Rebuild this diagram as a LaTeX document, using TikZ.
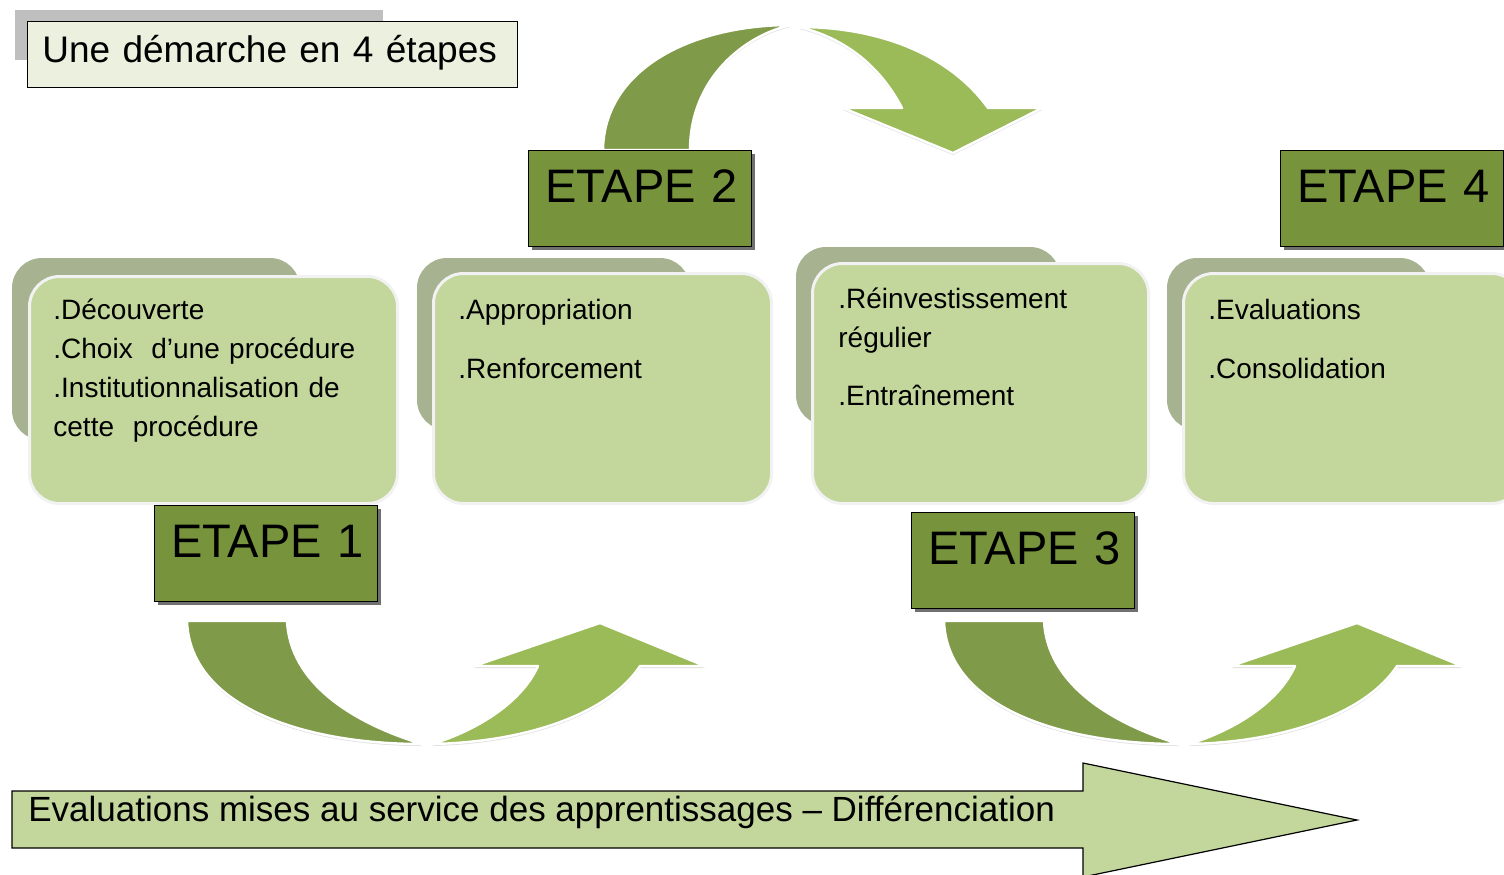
\documentclass[tikz,border=0pt]{standalone}
\usepackage{fontspec}
\setmainfont{Liberation Sans}
\usepackage{tikz}
\usetikzlibrary{shadows}
\definecolor{etapevert}{HTML}{77933C}
\definecolor{cartevert}{HTML}{C3D69B}
\definecolor{dosvert}{HTML}{A6B290}
\definecolor{titrefond}{HTML}{EBF1DE}
\definecolor{ombregris}{HTML}{BFBFBF}
\definecolor{flechefonce}{HTML}{7F9A48}
\definecolor{flecheclair}{HTML}{9BBB59}

\begin{document}
\begin{tikzpicture}[x=0.5pt,y=-0.5pt,
    etape/.style={draw=black,fill=etapevert,line width=0.6pt,anchor=north west,
        minimum width=111.5pt,text width=95pt,align=left,inner xsep=8pt,inner ysep=0pt,
        text height=26pt,text depth=22pt,font=\fontsize{23.5}{28}\selectfont,
        drop shadow={shadow xshift=1.5pt,shadow yshift=-1.5pt,fill=black!70,opacity=0.8}},
    carte/.style={draw=black!5,line width=1.5pt,fill=cartevert,rounded corners=15pt,
        anchor=north west,inner sep=0pt},
    dos/.style={fill=dosvert,rounded corners=15pt},
    texte/.style={anchor=base west,inner sep=0pt,text width=185pt,align=left,
        font=\fontsize{14}{19.5}\selectfont},
    fleche/.style={draw=white,line width=1.2pt,line join=round,
        drop shadow={shadow xshift=0pt,shadow yshift=-1pt,opacity=0.25}}]
    \useasboundingbox (0,0) rectangle (1504,874);

    % titre
    \fill [ombregris] (15,10) rectangle (383,60);
    \node [draw=black,fill=titrefond,anchor=north west,minimum width=245pt,inner xsep=7.5pt,
        inner ysep=0pt,text width=230pt,align=left,text height=20.5pt,text depth=12.5pt,
        font=\fontsize{18.5}{21}\selectfont] (titre) at (27,21) {Une démarche en 4 étapes};

    % cartes
    \fill [dos] (12,258) rectangle (300,440);
    \fill [dos] (417,258) rectangle (690,430);
    \fill [dos] (796,247) rectangle (1060,425);
    \fill [dos] (1167,258) rectangle (1430,430);
    \node [carte,minimum width=184pt,minimum height=113.5pt] (b1) at (28,275) {};
    \node [carte,minimum width=169pt,minimum height=115pt] (b2) at (432,272) {};
    \node [carte,minimum width=168pt,minimum height=120pt] (b3) at (811,262) {};
    \node [carte,minimum width=169pt,minimum height=115pt] (b4) at (1182,272) {};
    \node [texte] (t1) at (53,319) {.Découverte\\.Choix\ \ d’une procédure\\.Institutionnalisation de\\cette\ \ procédure};
    \node [texte] (t2) at (458,319) {.Appropriation\\[10pt].Renforcement};
    \node [texte] (t3) at (838,308) {.Réinvestissement\\régulier\\[9.5pt].Entraînement};
    \node [texte] (t4) at (1208,319) {.Evaluations\\[10pt].Consolidation};

    % fleche du haut
    \draw [fleche,fill=flechefonce] (603,150) .. controls (604,70) and (690,25) .. (791,25)
        .. controls (745,35) and (690,78) .. (690,150) -- cycle;
    \draw [fleche,fill=flecheclair] (799,27) .. controls (880,27) and (950,55) .. (988,108)
        -- (1042,108) -- (953,153) -- (843,108) -- (902,108)
        .. controls (880,66) and (845,38) .. (799,27) -- cycle;

    % fleches du bas
    \foreach \dx in {0,757} {
        \begin{scope}[shift={(\dx,0)}]
            \draw [fleche,fill=flechefonce] (187,621) .. controls (190,705) and (300,744) .. (422,744)
                .. controls (350,722) and (290,682) .. (287,621) -- cycle;
            \draw [fleche,fill=flecheclair] (432,744) .. controls (530,742) and (610,712) .. (640,666)
                -- (705,666) -- (600,623) -- (474,666) -- (538,666)
                .. controls (522,702) and (478,730) .. (432,744) -- cycle;
        \end{scope}
    }

    % etapes
    \node [etape] (e1) at (154,505) {ETAPE~1};
    \node [etape] (e2) at (528,150) {ETAPE~2};
    \node [etape] (e3) at (911,512) {ETAPE~3};
    \node [etape] (e4) at (1280,150) {ETAPE~4};

    % bande du bas
    \draw [fill=cartevert,line width=0.6pt] (12,791) -- (1083,791) -- (1083,763) -- (1357,820)
        -- (1083,877) -- (1083,848) -- (12,848) -- cycle;
    \node [anchor=base west,inner sep=0pt,font=\fontsize{17.5}{20}\selectfont] (bande) at (28,821)
        {Evaluations mises au service des apprentissages – Différenciation};
\end{tikzpicture}
\end{document}
